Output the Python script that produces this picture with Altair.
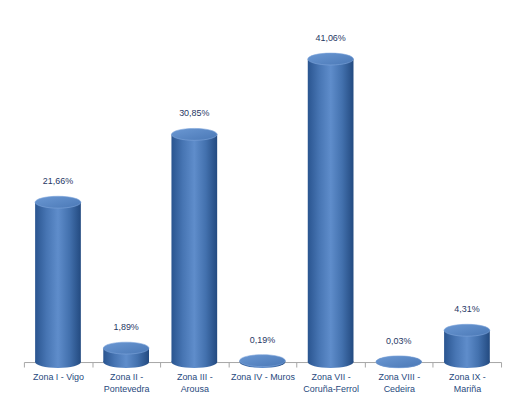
import altair as alt
import pandas as pd

zones = ["Zona I - Vigo", "Zona II - Pontevedra", "Zona III - Arousa", "Zona IV - Muros",
         "Zona VII - Coruña-Ferrol", "Zona VIII - Cedeira", "Zona IX - Mariña"]
line1 = ["Zona I - Vigo", "Zona II -", "Zona III -", "Zona IV - Muros", "Zona VII -", "Zona VIII -", "Zona IX -"]
line2 = ["", "Pontevedra", "Arousa", "", "Coruña-Ferrol", "Cedeira", "Mariña"]
values = [21.66, 1.89, 30.85, 0.19, 41.06, 0.03, 4.31]
labels = ["21,66%", "1,89%", "30,85%", "0,19%", "41,06%", "0,03%", "4,31%"]

df = pd.DataFrame({"zona": zones, "valor": values, "etiqueta": labels, "zero": [0] * len(zones)})

parts = []
for z, a, b in zip(zones, line1, line2):
    if b:
        parts.append("'%s': ['%s', '%s']" % (z, a, b))
    else:
        parts.append("'%s': '%s'" % (z, a))
label_expr = "({" + ", ".join(parts) + "})[datum.label]"

ellipse = "M -1 0 A 1 0.26 0 1 1 1 0 A 1 0.26 0 1 1 -1 0 Z"
W = 46

body_grad = alt.LinearGradient(
    gradient="linear", x1=0, x2=1, y1=0, y2=0,
    stops=[alt.GradientStop(offset=0, color="#2a5590"),
           alt.GradientStop(offset=0.25, color="#4775b3"),
           alt.GradientStop(offset=0.5, color="#5f8dcb"),
           alt.GradientStop(offset=0.75, color="#4371ae"),
           alt.GradientStop(offset=1, color="#234a80")])
top_grad = alt.LinearGradient(
    gradient="linear", x1=0, x2=1, y1=0, y2=1,
    stops=[alt.GradientStop(offset=0, color="#6b98d3"),
           alt.GradientStop(offset=1, color="#4a78b6")])

x_enc = alt.X("zona:N", sort=zones, title=None,
              scale=alt.Scale(paddingInner=0, paddingOuter=0),
              axis=alt.Axis(labelExpr=label_expr, labelAngle=0, tickBand="extent",
                            tickSize=5, labelPadding=6, domainColor="#a6a6a6",
                            tickColor="#a6a6a6", labelColor="#1f497d", labelFont="Liberation Sans",
                            labelFontSize=9, labelLineHeight=12, grid=False))
y_scale = alt.Scale(domain=[0, 46.2])

base = alt.Chart(df)

bottom = base.mark_point(shape=ellipse, size=W * W, filled=True, fill=body_grad, opacity=1,
                         strokeWidth=0).encode(
    x=x_enc, y=alt.Y("zero:Q", scale=y_scale, axis=None))
body = base.mark_bar(size=W, color=body_grad).encode(
    x=x_enc, y=alt.Y("valor:Q", scale=y_scale, axis=None), y2="zero:Q")
top = base.mark_point(shape=ellipse, size=W * W, filled=True, fill=top_grad, opacity=1,
                      stroke="#7ea6dc", strokeWidth=0.6).encode(
    x=x_enc, y=alt.Y("valor:Q", scale=y_scale, axis=None))
text = base.mark_text(dy=-21, font="Liberation Sans", fontSize=9, color="#1f3864").encode(
    x=x_enc, y=alt.Y("valor:Q", scale=y_scale, axis=None), text="etiqueta:N")

chart = alt.layer(bottom, body, top, text).properties(
    width=480, height=343, background="white",
    padding={"left": 15, "top": 12, "right": 5, "bottom": 5}
).configure_view(stroke=None, strokeWidth=0)

chart.save("out.html", embed_options={"renderer": "svg", "actions": False})
